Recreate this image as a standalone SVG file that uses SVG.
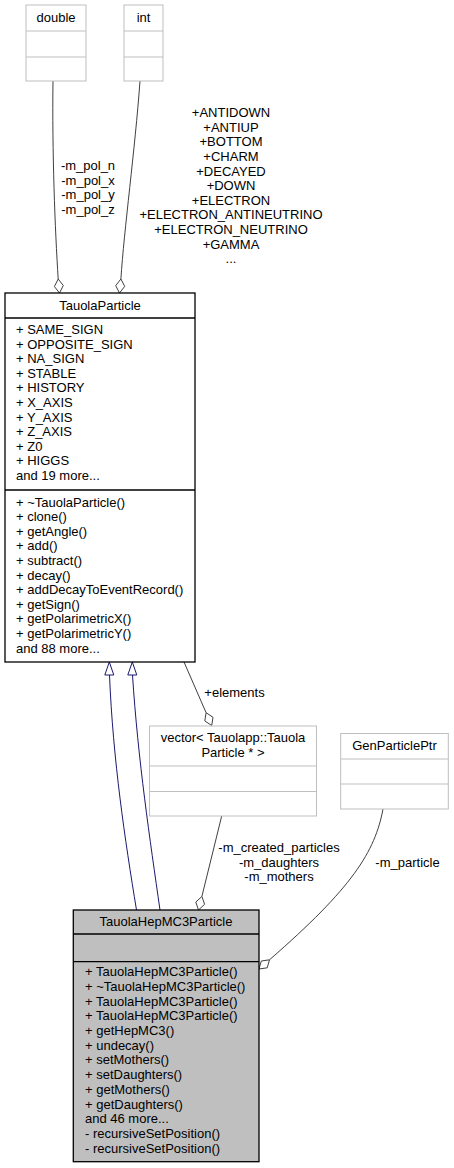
<svg xmlns="http://www.w3.org/2000/svg" width="454" height="1168" viewBox="0 0 454 1168">
<style>
text { font-family: "Liberation Sans", Arial, Helvetica, sans-serif; font-size: 13px; fill: #000; }
.c { text-anchor: middle; }
.gbox { fill: #fff; stroke: #bfbfbf; stroke-width: 1; }
.bbox { fill: #fff; stroke: #000; stroke-width: 1.3; }
.hbox { fill: #bfbfbf; stroke: #000; stroke-width: 1.3; }
.gline { stroke: #bfbfbf; stroke-width: 1; }
.bline { stroke: #000; stroke-width: 1.3; }
.edge { fill: none; stroke: #404040; stroke-width: 1; }
.dia { fill: #fff; stroke: #404040; stroke-width: 1; }
.inh { fill: none; stroke: #191970; stroke-width: 1; }
.tri { fill: #fff; stroke: #191970; stroke-width: 1; }
</style>
<rect width="454" height="1168" fill="#fff"/>

<g id="connectors">
  <path class="edge" d="M53,81 C52,150 55,230 58.2,279"/>
  <polygon class="dia" points="59.5,293 63.3,285.5 58.2,279 54.4,286.5"/>
  <path class="edge" d="M140,81 C135,150 124,230 120.9,279"/>
  <polygon class="dia" points="119.5,293 124.7,286.4 120.9,279 115.7,285.6"/>
  <text class="c" x="88" y="170.2">-m_pol_n</text>
  <text class="c" x="88" y="184.8">-m_pol_x</text>
  <text class="c" x="88" y="199.4">-m_pol_y</text>
  <text class="c" x="88" y="214">-m_pol_z</text>
  <text class="c" x="231" y="117.2">+ANTIDOWN</text>
  <text class="c" x="231" y="131.8">+ANTIUP</text>
  <text class="c" x="231" y="146.4">+BOTTOM</text>
  <text class="c" x="231" y="161">+CHARM</text>
  <text class="c" x="231" y="175.6">+DECAYED</text>
  <text class="c" x="231" y="190.2">+DOWN</text>
  <text class="c" x="231" y="204.8">+ELECTRON</text>
  <text class="c" x="231" y="219.4">+ELECTRON_ANTINEUTRINO</text>
  <text class="c" x="231" y="234">+ELECTRON_NEUTRINO</text>
  <text class="c" x="231" y="248.6">+GAMMA</text>
  <text class="c" x="231" y="263.2">...</text>

  <path class="inh" d="M109.5,675 C113,760 125,840 136.5,910"/>
  <polygon class="tri" points="109.3,662 104.8,675 113.8,675"/>
  <path class="inh" d="M132.5,675 C138,760 150,840 160,910"/>
  <polygon class="tri" points="132.3,662 127.8,675 136.8,675"/>

  <path class="edge" d="M184,662 L206.1,712.7"/>
  <polygon class="dia" points="211.7,725.5 213,717.3 206.1,712.7 204.8,720.9"/>
  <text class="c" x="234.5" y="697">+elements</text>

  <path class="edge" d="M221.7,816 L201.9,896.4"/>
  <polygon class="dia" points="198.5,910 204.6,904.3 201.9,896.4 195.8,902.1"/>
  <text class="c" x="279" y="852">-m_created_particles</text>
  <text class="c" x="279" y="866.6">-m_daughters</text>
  <text class="c" x="279" y="881.2">-m_mothers</text>

  <path class="edge" d="M383,809 C375,852 352,888 269.5,959.8"/>
  <polygon class="dia" points="259,969 267.2,967.8 269.5,959.8 261.3,961"/>
  <text class="c" x="407.5" y="866.8">-m_particle</text>
</g>

<g id="node-double">
  <rect class="gbox" x="26" y="5" width="60" height="76"/>
  <line class="gline" x1="26" y1="31" x2="86" y2="31"/>
  <line class="gline" x1="26" y1="57" x2="86" y2="57"/>
  <text class="c" x="56" y="21.5">double</text>
</g>

<g id="node-int">
  <rect class="gbox" x="124" y="5" width="39" height="76"/>
  <line class="gline" x1="124" y1="31" x2="163" y2="31"/>
  <line class="gline" x1="124" y1="57" x2="163" y2="57"/>
  <text class="c" x="143.5" y="21.5">int</text>
</g>

<g id="node-TauolaParticle">
  <rect class="bbox" x="5" y="293" width="190" height="369"/>
  <line class="bline" x1="5" y1="318" x2="195" y2="318"/>
  <line class="bline" x1="5" y1="490" x2="195" y2="490"/>
  <text class="c" x="100" y="309.5">TauolaParticle</text>
  <text x="16" y="334">+ SAME_SIGN</text>
  <text x="16" y="348.6">+ OPPOSITE_SIGN</text>
  <text x="16" y="363.2">+ NA_SIGN</text>
  <text x="16" y="377.8">+ STABLE</text>
  <text x="16" y="392.4">+ HISTORY</text>
  <text x="16" y="407">+ X_AXIS</text>
  <text x="16" y="421.6">+ Y_AXIS</text>
  <text x="16" y="436.2">+ Z_AXIS</text>
  <text x="16" y="450.8">+ Z0</text>
  <text x="16" y="465.4">+ HIGGS</text>
  <text x="16" y="480">and 19 more...</text>
  <text x="16" y="506.5">+ ~TauolaParticle()</text>
  <text x="16" y="521.1">+ clone()</text>
  <text x="16" y="535.7">+ getAngle()</text>
  <text x="16" y="550.3">+ add()</text>
  <text x="16" y="564.9">+ subtract()</text>
  <text x="16" y="579.5">+ decay()</text>
  <text x="16" y="594.1">+ addDecayToEventRecord()</text>
  <text x="16" y="608.7">+ getSign()</text>
  <text x="16" y="623.3">+ getPolarimetricX()</text>
  <text x="16" y="637.9">+ getPolarimetricY()</text>
  <text x="16" y="652.5">and 88 more...</text>
</g>

<g id="node-vector">
  <rect class="gbox" x="149.5" y="726" width="167" height="90"/>
  <line class="gline" x1="149.5" y1="766" x2="316.5" y2="766"/>
  <line class="gline" x1="149.5" y1="791.5" x2="316.5" y2="791.5"/>
  <text class="c" x="233" y="742.2">vector&lt; Tauolapp::Tauola</text>
  <text class="c" x="233" y="757.2">Particle * &gt;</text>
</g>

<g id="node-GenParticlePtr">
  <rect class="gbox" x="340.7" y="733.5" width="107.6" height="75.5"/>
  <line class="gline" x1="340.7" y1="759" x2="448.3" y2="759"/>
  <line class="gline" x1="340.7" y1="784" x2="448.3" y2="784"/>
  <text class="c" x="394.5" y="749.5">GenParticlePtr</text>
</g>

<g id="node-TauolaHepMC3Particle">
  <rect class="hbox" x="73.3" y="910" width="185.7" height="251.7"/>
  <line class="bline" x1="73.3" y1="934" x2="259" y2="934"/>
  <line class="bline" x1="73.3" y1="961.7" x2="259" y2="961.7"/>
  <text class="c" x="166" y="926.2">TauolaHepMC3Particle</text>
  <text x="85" y="976.2">+ TauolaHepMC3Particle()</text>
  <text x="85" y="990.9">+ ~TauolaHepMC3Particle()</text>
  <text x="85" y="1005.6">+ TauolaHepMC3Particle()</text>
  <text x="85" y="1020.3">+ TauolaHepMC3Particle()</text>
  <text x="85" y="1035">+ getHepMC3()</text>
  <text x="85" y="1049.7">+ undecay()</text>
  <text x="85" y="1064.4">+ setMothers()</text>
  <text x="85" y="1079.1">+ setDaughters()</text>
  <text x="85" y="1093.8">+ getMothers()</text>
  <text x="85" y="1108.5">+ getDaughters()</text>
  <text x="85" y="1123.2">and 46 more...</text>
  <text x="85" y="1137.9">- recursiveSetPosition()</text>
  <text x="85" y="1152.6">- recursiveSetPosition()</text>
</g>
</svg>
